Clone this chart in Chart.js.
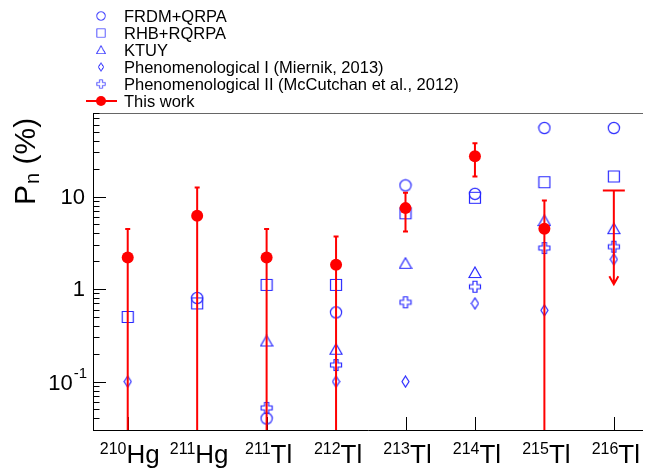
<!DOCTYPE html>
<html>
<head>
<meta charset="utf-8">
<script src="https://cdn.jsdelivr.net/npm/chart.js@4.4.1/dist/chart.umd.min.js"></script>
<style>
  html, body { margin: 0; padding: 0; background: #fff; }
  canvas { display: block; }
</style>
</head>
<body>
<canvas id="pnChart" width="650" height="468"></canvas>
<script>
// nuclei along the x axis
const massNumbers = ['210', '211', '211', '212', '213', '214', '215', '216'];
const elements = ['Hg', 'Hg', 'Tl', 'Tl', 'Tl', 'Tl', 'Tl', 'Tl'];

// model predictions, Pn in %
const frdmQrpa = [null, 0.80, 0.040, 0.56, 13.2, 10.7, 55, 55];
const rhbRqrpa = [0.50, 0.70, 1.11, 1.11, 6.6, 9.7, 14.3, 16.5];
const ktuy     = [null, null, 0.275, 0.224, 1.9, 1.51, 5.5, 4.5];
const phenomI  = [0.10, null, null, 0.10, 0.10, 0.70, 0.59, 2.1];
const phenomII = [null, null, 0.052, 0.151, 0.72, 1.06, 2.78, 2.87];

// this work: value, upper and lower end of the error bar (0.01 = off the bottom)
const thisWork   = [2.2, 6.2, 2.2, 1.83, 7.5, 27.3, 4.5, null];
const thisWorkHi = [4.47, 12.5, 4.47, 3.69, 11.0, 37.8, 9.05, null];
const thisWorkLo = [0.01, 0.01, 0.01, 0.01, 4.2, 16.5, 0.01, null];
// 216Tl is only an upper limit, arrow drawn down to arrowEnd
const upperLimit = [null, null, null, null, null, null, null, 11.6];
const arrowEnd   = [null, null, null, null, null, null, null, 1.13];

const yTickLabels = [0.1, 1, 10];

const BLUE = 'rgb(40, 40, 255)';
const RED = 'rgb(255, 0, 0)';
const FONT = "'Liberation Sans', Arial, sans-serif";

// hollow markers, drawn once on small canvases
function marker(w, h, draw) {
    const c = document.createElement('canvas');
    c.width = w;
    c.height = h;
    const g = c.getContext('2d');
    g.strokeStyle = BLUE;
    g.lineWidth = 1.2;
    g.beginPath();
    draw(g);
    g.closePath();
    g.stroke();
    return c;
}
const circleMk = marker(14, 14, g => g.arc(7, 7, 5.6, 0, Math.PI * 2));
const squareMk = marker(14, 14, g => g.rect(1.5, 1.5, 11, 11));
const triangleMk = marker(14, 13, g => { g.moveTo(7, 1); g.lineTo(13, 11.5); g.lineTo(1, 11.5); });
const diamondMk = marker(9, 13, g => { g.moveTo(4.5, 1); g.lineTo(8, 6.5); g.lineTo(4.5, 12); g.lineTo(1, 6.5); });
const plusMk = marker(14, 14, g => {
    const a = 1.5, b = 5, c = 9, d = 12.5;
    g.moveTo(b, a); g.lineTo(c, a); g.lineTo(c, b); g.lineTo(d, b); g.lineTo(d, c); g.lineTo(c, c);
    g.lineTo(c, d); g.lineTo(b, d); g.lineTo(b, c); g.lineTo(a, c); g.lineTo(a, b); g.lineTo(b, b);
});

function toPoints(arr) {
    return arr.map((v, i) => ({ x: i, y: v })).filter(p => p.y != null);
}

function blueSet(label, arr, style) {
    return {
        label: label,
        data: toPoints(arr),
        pointStyle: style,
        pointRadius: 6,
        borderColor: BLUE,
        backgroundColor: 'rgba(0,0,0,0)'
    };
}

const legendRows = [
    { text: 'FRDM+QRPA', mk: circleMk },
    { text: 'RHB+RQRPA', mk: squareMk },
    { text: 'KTUY', mk: triangleMk },
    { text: 'Phenomenological I (Miernik, 2013)', mk: diamondMk },
    { text: 'Phenomenological II (McCutchan et al., 2012)', mk: plusMk },
    { text: 'This work', mk: null }
];

// axes, ticks and error bars, labels and legend
const decorations = {
    id: 'decorations',
    beforeDatasetsDraw(chart) {
        const ctx = chart.ctx;
        const a = chart.chartArea;
        const xs = chart.scales.x, ys = chart.scales.y;
        ctx.save();

        // frame
        ctx.lineWidth = 1;
        ctx.strokeStyle = '#666';
        ctx.beginPath();
        ctx.moveTo(a.left, a.top + 0.5);
        ctx.lineTo(a.right, a.top + 0.5);
        ctx.stroke();
        ctx.strokeStyle = '#000';
        ctx.beginPath();
        ctx.moveTo(a.left + 0.5, a.top);
        ctx.lineTo(a.left + 0.5, a.bottom + 0.5);
        ctx.lineTo(a.right, a.bottom + 0.5);
        ctx.stroke();

        // log ticks pointing inwards
        ctx.beginPath();
        for (let d = -2; d <= 1; d++) {
            for (let m = 1; m <= 9; m++) {
                const v = m * Math.pow(10, d);
                if (v < ys.min * 0.999 || v > ys.max * 1.001) continue;
                const py = Math.round(ys.getPixelForValue(v)) + 0.5;
                ctx.moveTo(a.left, py);
                ctx.lineTo(a.left + (m === 1 ? 13 : 6.5), py);
            }
        }
        massNumbers.forEach((_, i) => {
            const px = Math.round(xs.getPixelForValue(i)) + 0.5;
            ctx.moveTo(px, a.bottom);
            ctx.lineTo(px, a.bottom - 13);
        });
        ctx.stroke();
        ctx.restore();
    },
    beforeDatasetDraw(chart, args) {
        if (args.index !== 0) return; // just before the red points
        const ctx = chart.ctx;
        const a = chart.chartArea;
        const xs = chart.scales.x, ys = chart.scales.y;
        ctx.save();
        ctx.beginPath();
        ctx.rect(a.left, a.top, a.right - a.left, a.bottom - a.top);
        ctx.clip();
        ctx.strokeStyle = RED;
        ctx.lineWidth = 2;
        thisWork.forEach((v, i) => {
            if (v == null) return;
            const px = xs.getPixelForValue(i);
            const yHi = ys.getPixelForValue(thisWorkHi[i]);
            const yLo = ys.getPixelForValue(thisWorkLo[i]);
            ctx.beginPath();
            ctx.moveTo(px, yHi);
            ctx.lineTo(px, yLo);
            ctx.moveTo(px - 2.5, yHi);
            ctx.lineTo(px + 2.5, yHi);
            ctx.moveTo(px - 2.5, yLo);
            ctx.lineTo(px + 2.5, yLo);
            ctx.stroke();
        });
        upperLimit.forEach((v, i) => {
            if (v == null) return;
            const px = xs.getPixelForValue(i);
            const yTop = ys.getPixelForValue(v);
            const yEnd = ys.getPixelForValue(arrowEnd[i]);
            ctx.beginPath();
            ctx.moveTo(px - 11, yTop);
            ctx.lineTo(px + 11, yTop);
            ctx.moveTo(px, yTop);
            ctx.lineTo(px, yEnd);
            ctx.moveTo(px - 4.5, yEnd - 8);
            ctx.lineTo(px, yEnd);
            ctx.lineTo(px + 4.5, yEnd - 8);
            ctx.stroke();
        });
        ctx.restore();
    },
    afterDraw(chart) {
        const ctx = chart.ctx;
        const a = chart.chartArea;
        const xs = chart.scales.x, ys = chart.scales.y;
        ctx.save();

        // y tick labels
        ctx.fillStyle = '#000';
        ctx.textBaseline = 'middle';
        yTickLabels.forEach(v => {
            const py = ys.getPixelForValue(v) + 1;
            const exp = Math.round(Math.log10(v));
            ctx.font = '22px ' + FONT;
            if (exp >= 0) {
                ctx.textAlign = 'right';
                ctx.fillText(String(v), a.left - 8, py);
            } else {
                ctx.font = '15px ' + FONT;
                const supW = ctx.measureText(String(exp)).width;
                ctx.textAlign = 'left';
                ctx.fillText(String(exp), a.left - 6 - supW, py - 9);
                ctx.font = '22px ' + FONT;
                ctx.textAlign = 'right';
                ctx.fillText('10', a.left - 6 - supW - 1, py + 1);
            }
        });

        // x tick labels with mass number as superscript
        ctx.textAlign = 'left';
        ctx.textBaseline = 'alphabetic';
        massNumbers.forEach((mass, i) => {
            const px = xs.getPixelForValue(i);
            ctx.font = '16px ' + FONT;
            const w1 = ctx.measureText(mass).width;
            ctx.font = '26px ' + FONT;
            const w2 = ctx.measureText(elements[i]).width;
            const x0 = px - (w1 + w2) / 2 + 2;
            ctx.font = '16px ' + FONT;
            ctx.fillText(mass, x0, 454);
            ctx.font = '26px ' + FONT;
            ctx.fillText(elements[i], x0 + w1, 463);
        });

        // y axis title P_n (%)
        ctx.save();
        ctx.translate(35, 205);
        ctx.rotate(-Math.PI / 2);
        ctx.font = '30px ' + FONT;
        ctx.fillText('P', 0, 0);
        let off = ctx.measureText('P').width + 1;
        ctx.font = '20px ' + FONT;
        ctx.fillText('n', off, 4);
        off += ctx.measureText('n').width;
        ctx.font = '30px ' + FONT;
        ctx.fillText(' (%)', off, 0);
        ctx.restore();

        // legend
        ctx.font = '16.5px ' + FONT;
        ctx.textBaseline = 'middle';
        legendRows.forEach((row, k) => {
            const ly = 16 + k * 17;
            if (row.mk) {
                const w = row.mk.width * 0.75, h = row.mk.height * 0.75;
                ctx.drawImage(row.mk, 101 - w / 2, ly - h / 2, w, h);
            } else {
                ctx.strokeStyle = RED;
                ctx.lineWidth = 2;
                ctx.beginPath();
                ctx.moveTo(86, ly);
                ctx.lineTo(117, ly);
                ctx.stroke();
                ctx.fillStyle = RED;
                ctx.beginPath();
                ctx.arc(101, ly, 5, 0, Math.PI * 2);
                ctx.fill();
                ctx.fillStyle = '#000';
            }
            ctx.fillText(row.text, 124, ly + 1);
        });

        ctx.restore();
    }
};

const ctxChart = document.getElementById('pnChart').getContext('2d');

const pnChart = new Chart(ctxChart, {
    type: 'scatter',
    data: {
        datasets: [
            {
                label: 'This work',
                data: toPoints(thisWork),
                pointStyle: 'circle',
                pointRadius: 6,
                borderWidth: 0,
                backgroundColor: RED,
                borderColor: RED
            },
            blueSet('FRDM+QRPA', frdmQrpa, circleMk),
            blueSet('RHB+RQRPA', rhbRqrpa, squareMk),
            blueSet('KTUY', ktuy, triangleMk),
            blueSet('Phenomenological I (Miernik, 2013)', phenomI, diamondMk),
            blueSet('Phenomenological II (McCutchan et al., 2012)', phenomII, plusMk)
        ]
    },
    options: {
        responsive: false,
        animation: false,
        devicePixelRatio: 1,
        layout: { padding: { left: 93, top: 113, right: 0, bottom: 38 } },
        plugins: {
            legend: { display: false },
            tooltip: { enabled: false }
        },
        scales: {
            x: { type: 'linear', min: -0.5, max: 7.42, display: false },
            y: { type: 'logarithmic', min: 0.03, max: 80, display: false }
        }
    },
    plugins: [decorations]
});
</script>
</body>
</html>
